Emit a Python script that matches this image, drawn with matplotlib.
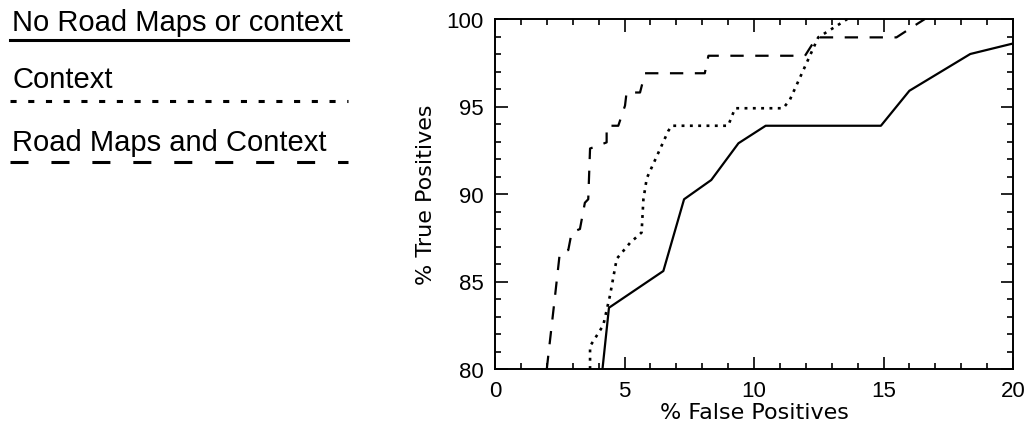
import matplotlib
matplotlib.use("Agg")
import matplotlib.pyplot as plt
from matplotlib.ticker import MultipleLocator

# ROC curves
none_fp = [4.15, 4.4, 6.5, 7.3, 8.35, 9.4, 10.45, 14.9, 16.0, 18.35, 20.0]
none_tp = [80.0, 83.5, 85.6, 89.7, 90.8, 92.9, 93.9, 93.9, 95.9, 98.0, 98.6]

ctx_fp = [3.67, 3.67, 4.18, 4.44, 4.7, 5.21, 5.66, 5.73, 5.86, 6.69, 6.82,
          9.0, 9.27, 11.13, 11.39, 12.48, 13.45, 13.6]
ctx_tp = [80.0, 81.3, 82.5, 84.2, 86.3, 87.2, 87.8, 89.7, 90.9, 93.6, 93.9,
          93.9, 94.9, 94.9, 95.4, 98.95, 99.85, 100.0]

rm_fp = [2.0, 2.06, 2.32, 2.5, 2.83, 2.96, 3.28, 3.47, 3.6, 3.67, 4.05, 4.31,
         4.31, 4.76, 5.02, 5.08, 5.6, 5.79, 8.1, 8.24, 11.97, 12.42, 15.5,
         16.28, 16.6]
rm_tp = [80.0, 80.8, 84.2, 86.6, 86.8, 87.8, 88.0, 89.5, 89.7, 92.6, 92.8,
         92.95, 93.9, 93.9, 95.05, 95.8, 95.8, 96.9, 96.9, 97.9, 97.9, 98.95,
         98.95, 99.7, 100.0]

labels = ["No Road Maps or context", "Context", "Road Maps and Context"]

HELV = ["Liberation Sans", "DejaVu Sans"]

fig = plt.figure(figsize=(10.28, 4.35), dpi=100)
ax = fig.add_axes([495 / 1028, 1 - 370 / 435, 518 / 1028, 350 / 435])

ax.plot(none_fp, none_tp, color="black", lw=1.6, ls="-")
ax.plot(ctx_fp, ctx_tp, color="black", lw=1.9, ls=(0, (1.1, 2.05)))
ax.plot(rm_fp, rm_tp, color="black", lw=1.6, ls=(0, (6, 5.2)))

ax.set_xlim(0, 20)
ax.set_ylim(80, 100)
ax.xaxis.set_major_locator(MultipleLocator(5))
ax.xaxis.set_minor_locator(MultipleLocator(1))
ax.yaxis.set_major_locator(MultipleLocator(5))
ax.yaxis.set_minor_locator(MultipleLocator(1))
ax.tick_params(which="both", direction="in", top=True, right=True,
               width=1.2)
ax.tick_params(which="major", length=9)
ax.tick_params(which="minor", length=4.5)
ax.tick_params(axis="both", which="major", labelsize=16, pad=8)
for lab in ax.get_xticklabels() + ax.get_yticklabels():
    lab.set_family(HELV)
for sp in ax.spines.values():
    sp.set_linewidth(1.4)

ax.set_xlabel("% False Positives", fontsize=16, labelpad=1)
ax.set_ylabel("% True Positives", fontsize=16, labelpad=8)

# hand-drawn legend at the left
styles = ["-", (0, (2, 3.8)), (0, (5.9, 7.5))]
text_y = [23, 80, 143]
line_y = [41, 102, 163]
for lab, ls, ty, ly in zip(labels, styles, text_y, line_y):
    fig.text(12 / 1028, 1 - ty / 435, lab, fontsize=21, family=HELV,
             ha="left", va="center")
    fig.add_artist(plt.Line2D([10 / 1028, 348 / 1028],
                              [1 - ly / 435, 1 - ly / 435],
                              color="black", lw=2.2, ls=ls))

fig.savefig("out.png", dpi=100)
